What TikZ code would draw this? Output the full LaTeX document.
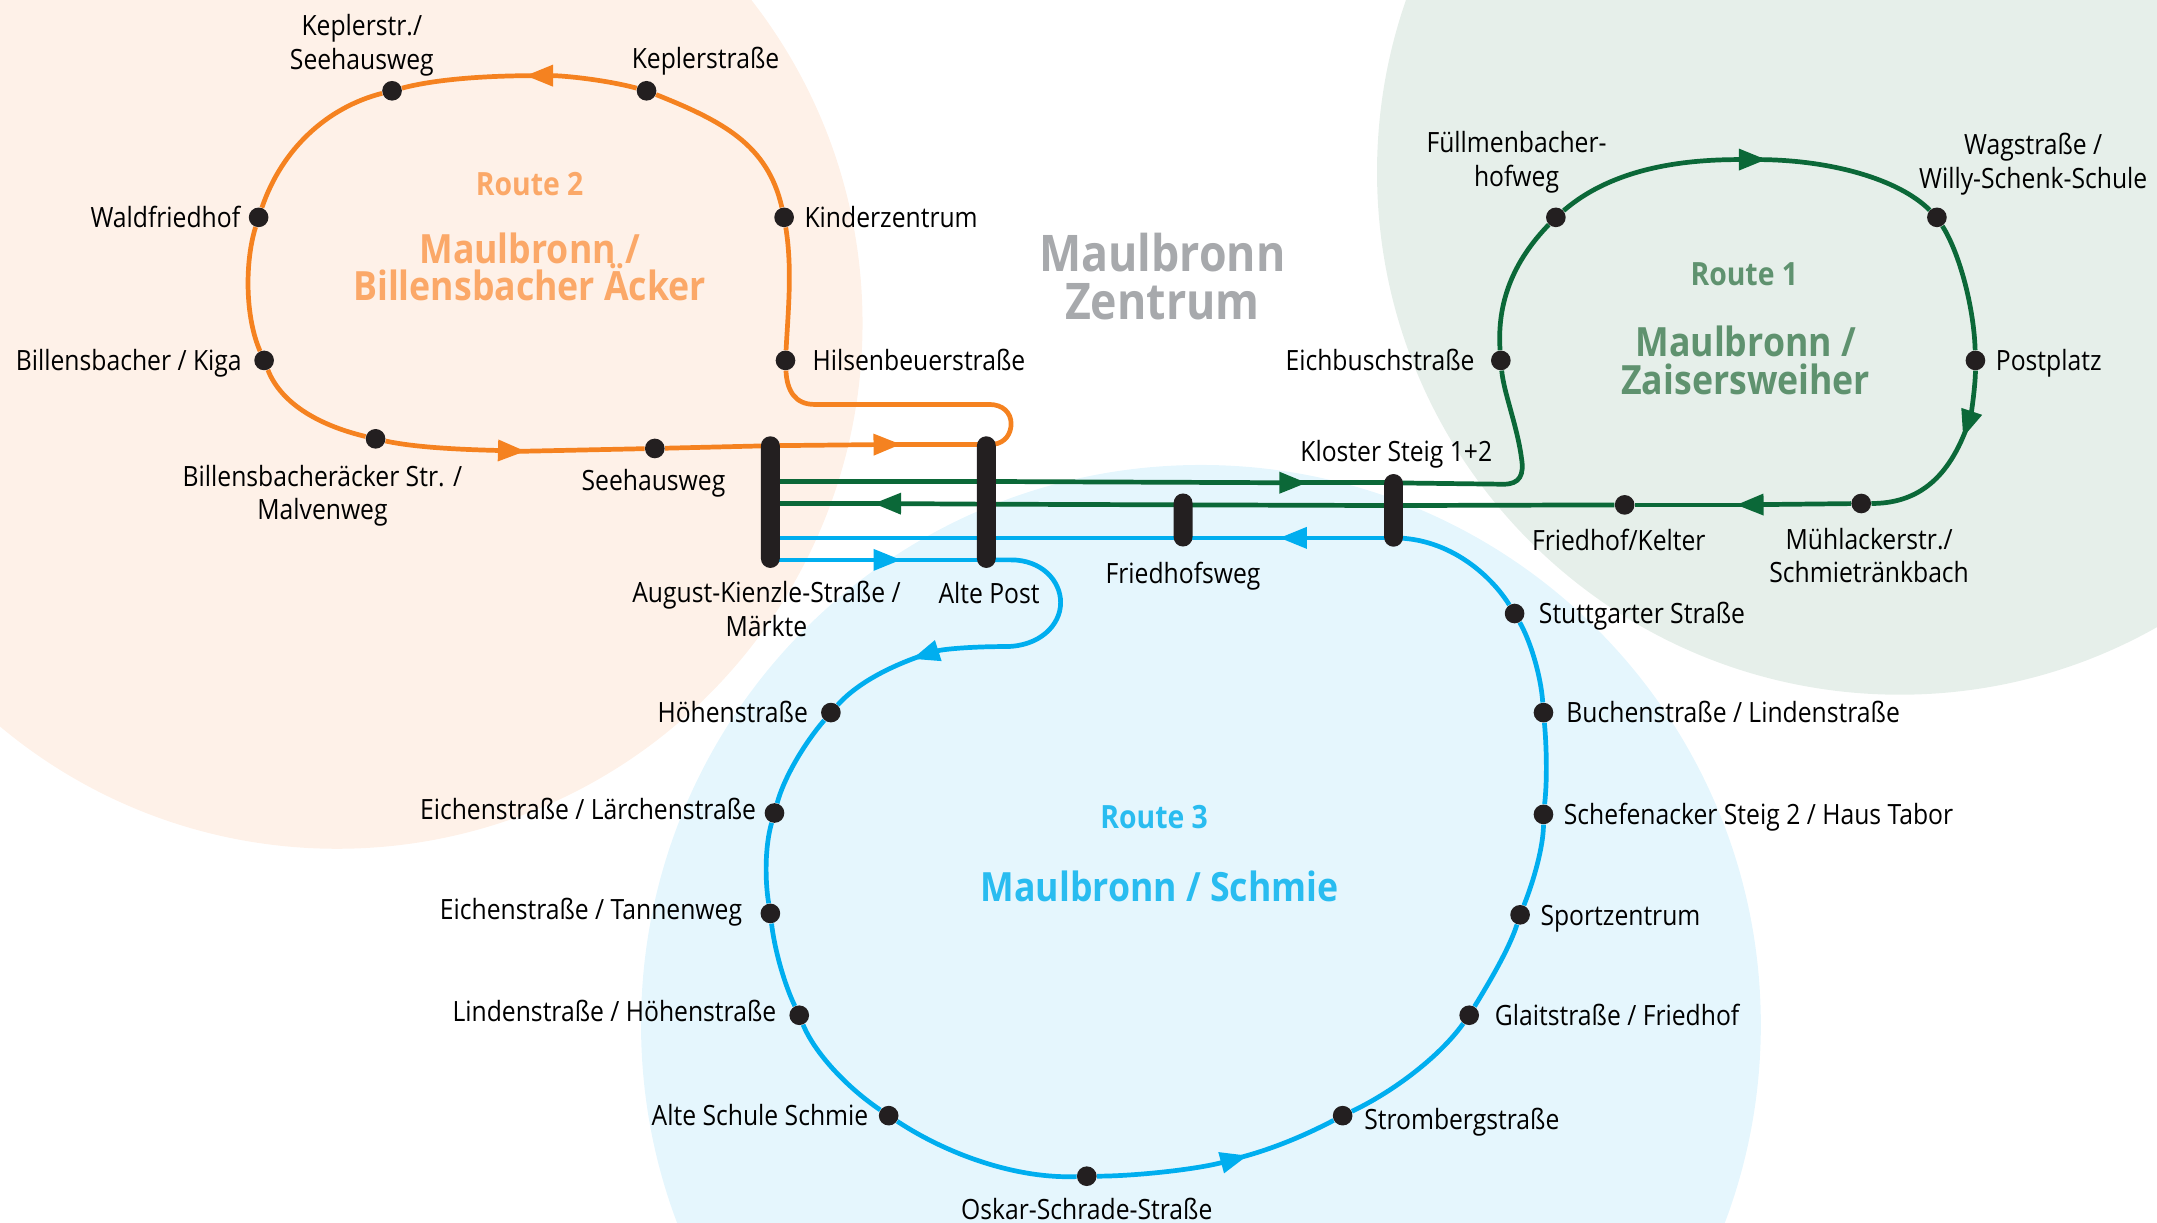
\documentclass[tikz,border=0pt]{standalone}
\usepackage{fontspec}
\setmainfont[FakeStretch=0.885]{Open Sans}
\usetikzlibrary{arrows.meta, positioning, backgrounds}
\definecolor{routeorange}{HTML}{F58220}
\definecolor{routegreen}{HTML}{0B6838}
\definecolor{routeblue}{HTML}{00AEEF}
\definecolor{stopblack}{HTML}{231F20}
\definecolor{fieldorange}{HTML}{FEF1E8}
\definecolor{fieldgreen}{HTML}{E6EFEA}
\definecolor{fieldblue}{HTML}{E5F6FD}
\definecolor{titleorange}{HTML}{FBA868}
\definecolor{titlegreen}{HTML}{5F926F}
\definecolor{titleblue}{HTML}{29BCF0}
\definecolor{titlegrey}{HTML}{A7A9AC}
\tikzset{
    stopdot/.style={circle, fill=stopblack, inner sep=0pt, minimum size=10pt},
    stopbar/.style={rectangle, fill=stopblack, inner sep=0pt, rounded corners=4.8pt, minimum width=9.6pt},
    stoplabel/.style={inner sep=0pt, align=center, font=\fontsize{14.2}{17}\selectfont},
    oneline/.style={stoplabel, text height=13.5pt, text depth=3pt},
    routename/.style={inner sep=0pt, font=\fontsize{16.3}{18}\selectfont\bfseries},
    routetitle/.style={inner sep=0pt, align=center, font=\fontsize{20.5}{19}\selectfont\bfseries},
    rline/.style={line width=2.4pt, line join=round},
    rtip/.style={-{Triangle[length=14pt, width=10.5pt]}},
    rback/.style={shorten <=-5pt}
}
\begin{document}
\begin{tikzpicture}[x=0.7pt, y=-0.7pt]
\useasboundingbox (0, 0) rectangle (1568, 889);

% stops of the orange route
\node[stopdot] (Ro1) at (571, 262) {};
\node[stopdot] (Ro2) at (570, 158) {};
\node[stopdot] (Ro3) at (470, 66) {};
\node[stopdot] (Ro4) at (285, 66) {};
\node[stopdot] (Ro5) at (188, 158) {};
\node[stopdot] (Ro6) at (192, 262) {};
\node[stopdot] (Ro7) at (273, 319) {};
\node[stopdot] (Ro8) at (476, 326) {};

% stops of the green route
\node[stopdot] (Gr1) at (1091, 262) {};
\node[stopdot] (Gr2) at (1131, 158) {};
\node[stopdot] (Gr3) at (1408, 158) {};
\node[stopdot] (Gr4) at (1436, 262) {};
\node[stopdot] (Gr5) at (1353, 366) {};
\node[stopdot] (Gr6) at (1181, 367) {};

% stops of the blue route
\node[stopdot] (Bl1) at (604, 518) {};
\node[stopdot] (Bl2) at (563, 591) {};
\node[stopdot] (Bl3) at (560, 664) {};
\node[stopdot] (Bl4) at (581, 738) {};
\node[stopdot] (Bl5) at (646, 811) {};
\node[stopdot] (Bl6) at (790, 855) {};
\node[stopdot] (Bl7) at (976, 811) {};
\node[stopdot] (Bl8) at (1068, 738) {};
\node[stopdot] (Bl9) at (1105, 665) {};
\node[stopdot] (Bl10) at (1122, 592) {};
\node[stopdot] (Bl11) at (1122, 518) {};
\node[stopdot] (Bl12) at (1101, 446) {};

% shared stops
\node[stopbar, minimum height=67pt] (BarA) at (560, 365) {};
\node[stopbar, minimum height=67pt] (BarB) at (717, 365) {};
\node[stopbar, minimum height=27pt] (BarC) at (860, 378) {};
\node[stopbar, minimum height=37pt] (BarD) at (1013, 371) {};

% track points and arrow points
\coordinate (OrA) at (560, 324);
\coordinate (OrB) at (717, 323);
\coordinate (Ot1) at (382, 55);
\coordinate (Ot2) at (382, 328);
\coordinate (Ot3) at (655, 323);
\coordinate (GuA) at (560, 350);
\coordinate (GuB) at (717, 350);
\coordinate (GuD) at (1013, 351);
\coordinate (GlA) at (560, 366);
\coordinate (GlB) at (717, 366.5);
\coordinate (GlC) at (860, 367);
\coordinate (GlD) at (1013, 367.5);
\coordinate (Gt1) at (950, 351);
\coordinate (Gt2) at (1284, 116);
\coordinate (Gt3) at (1427, 318);
\coordinate (Gt4) at (1262, 367);
\coordinate (Gt5) at (635, 366);
\coordinate (BuA) at (560, 391);
\coordinate (BuB) at (717, 391);
\coordinate (BuC) at (860, 391);
\coordinate (BuD) at (1013, 391);
\coordinate (BlA) at (560, 407);
\coordinate (BlB) at (717, 407);
\coordinate (Bt1) at (655, 407);
\coordinate (Bt2) at (663, 479);
\coordinate (Bt3) at (907, 840);
\coordinate (Bt4) at (930, 391);

\begin{scope}[on background layer]
    \clip (0, 0) rectangle (1568, 889);
    \fill[fieldorange] (245, 235) circle (382);
    \fill[fieldgreen] (1381, 125) circle (380);
    \fill[fieldblue] (873, 745) circle (407);

    % orange route
    \draw[rline, routeorange] (OrB) -- (722, 323) .. controls (731, 322) and (735, 315) .. (735, 308)
        .. controls (735, 300) and (729, 294) .. (719, 294) -- (592, 294)
        .. controls (578, 294) and (572, 284) .. (Ro1);
    \draw[rline, routeorange] (Ro1) .. controls (573, 225) and (576, 195) .. (Ro2);
    \draw[rline, routeorange] (Ro2) .. controls (558, 105) and (525, 88) .. (Ro3);
    \draw[rline, routeorange, rtip] (Ro3) .. controls (440, 58) and (410, 55) .. (Ot1);
    \draw[rline, routeorange, rback] (Ot1) .. controls (350, 55) and (315, 58) .. (Ro4);
    \draw[rline, routeorange] (Ro4) .. controls (238, 78) and (205, 108) .. (Ro5);
    \draw[rline, routeorange] (Ro5) .. controls (178, 190) and (178, 230) .. (Ro6);
    \draw[rline, routeorange] (Ro6) .. controls (205, 295) and (235, 310) .. (Ro7);
    \draw[rline, routeorange, rtip] (Ro7) .. controls (305, 326) and (345, 327) .. (Ot2);
    \draw[rline, routeorange, rback] (Ot2) -- (Ro8);
    \draw[rline, routeorange] (Ro8) -- (OrA);
    \draw[rline, routeorange, rtip] (OrA) -- (Ot3);
    \draw[rline, routeorange, rback] (Ot3) -- (OrB);

    % green route
    \draw[rline, routegreen] (GuA) -- (GuB);
    \draw[rline, routegreen, rtip] (GuB) -- (Gt1);
    \draw[rline, routegreen, rback] (Gt1) -- (GuD);
    \draw[rline, routegreen] (GuD) -- (1093, 352) .. controls (1105, 352) and (1108, 345) .. (1106, 333)
        .. controls (1103, 310) and (1093, 285) .. (Gr1);
    \draw[rline, routegreen] (Gr1) .. controls (1088, 220) and (1100, 190) .. (Gr2);
    \draw[rline, routegreen, rtip] (Gr2) .. controls (1175, 120) and (1230, 116) .. (Gt2);
    \draw[rline, routegreen, rback] (Gt2) .. controls (1330, 116) and (1380, 130) .. (Gr3);
    \draw[rline, routegreen] (Gr3) .. controls (1425, 185) and (1435, 225) .. (Gr4);
    \draw[rline, routegreen, rtip] (Gr4) .. controls (1436, 280) and (1433, 300) .. (Gt3);
    \draw[rline, routegreen, rback] (Gt3) .. controls (1415, 350) and (1392, 366) .. (Gr5);
    \draw[rline, routegreen, rtip] (Gr5) -- (Gt4);
    \draw[rline, routegreen, rback] (Gt4) -- (Gr6);
    \draw[rline, routegreen] (Gr6) -- (GlD);
    \draw[rline, routegreen] (GlD) -- (GlC);
    \draw[rline, routegreen] (GlC) -- (GlB);
    \draw[rline, routegreen, rtip] (GlB) -- (Gt5);
    \draw[rline, routegreen, rback] (Gt5) -- (GlA);

    % blue route
    \draw[rline, routeblue, rtip] (BlA) -- (Bt1);
    \draw[rline, routeblue, rback] (Bt1) -- (BlB);
    \draw[rline, routeblue, rtip] (BlB) -- (735, 407) .. controls (757, 407) and (771, 422) .. (771, 438)
        .. controls (771, 455) and (755, 470) .. (731, 470) .. controls (705, 470) and (685, 472) .. (Bt2);
    \draw[rline, routeblue, rback] (Bt2) .. controls (640, 487) and (620, 500) .. (Bl1);
    \draw[rline, routeblue] (Bl1) .. controls (585, 540) and (570, 565) .. (Bl2);
    \draw[rline, routeblue] (Bl2) .. controls (556, 615) and (556, 640) .. (Bl3);
    \draw[rline, routeblue] (Bl3) .. controls (563, 690) and (570, 715) .. (Bl4);
    \draw[rline, routeblue] (Bl4) .. controls (592, 765) and (615, 790) .. (Bl5);
    \draw[rline, routeblue] (Bl5) .. controls (690, 840) and (740, 857) .. (Bl6);
    \draw[rline, routeblue, rtip] (Bl6) .. controls (825, 855) and (870, 850) .. (Bt3);
    \draw[rline, routeblue, rback] (Bt3) .. controls (930, 834) and (955, 822) .. (Bl7);
    \draw[rline, routeblue] (Bl7) .. controls (1010, 795) and (1045, 770) .. (Bl8);
    \draw[rline, routeblue] (Bl8) .. controls (1082, 715) and (1097, 690) .. (Bl9);
    \draw[rline, routeblue] (Bl9) .. controls (1115, 640) and (1122, 615) .. (Bl10);
    \draw[rline, routeblue] (Bl10) .. controls (1125, 565) and (1124, 540) .. (Bl11);
    \draw[rline, routeblue] (Bl11) .. controls (1120, 490) and (1112, 465) .. (Bl12);
    \draw[rline, routeblue] (Bl12) .. controls (1085, 420) and (1055, 391) .. (BuD);
    \draw[rline, routeblue, rtip] (BuD) -- (Bt4);
    \draw[rline, routeblue, rback] (Bt4) -- (BuC);
    \draw[rline, routeblue] (BuC) -- (BuB);
    \draw[rline, routeblue] (BuB) -- (BuA);
\end{scope}

% stop names
\node[oneline, right = 8.4pt of Ro1] (Lo1) {Hilsenbeuerstraße};
\node[oneline, right = 5pt of Ro2] (Lo2) {Kinderzentrum};
\node[oneline, above = 2.9pt of Ro3, xshift=30pt] (Lo3) {Keplerstraße};
\node[stoplabel, above = 2.2pt of Ro4, xshift=-15.4pt] (Lo4) {Keplerstr./\\Seehausweg};
\node[oneline, left = 4pt of Ro5] (Lo5) {Waldfriedhof};
\node[oneline, left = 6pt of Ro6] (Lo6) {Billensbacher / Kiga};
\node[stoplabel, below = 8pt of Ro7, xshift=-27pt] (Lo7) {Billensbacheräcker Str. /\\Malvenweg};
\node[oneline, below = 2.4pt of Ro8, xshift=-0.7pt] (Lo8) {Seehausweg};

\node[oneline, left = 8pt of Gr1] (Lg1) {Eichbuschstraße};
\node[stoplabel, above = 7pt of Gr2, xshift=-20pt] (Lg2) {Füllmenbacher-\\hofweg};
\node[stoplabel, above = 6pt of Gr3, xshift=49pt] (Lg3) {Wagstraße /\\Willy-Schenk-Schule};
\node[oneline, right = 5pt of Gr4] (Lg4) {Postplatz};
\node[stoplabel, below = 7pt of Gr5, xshift=4pt] (Lg5) {Mühlackerstr./\\Schmietränkbach};
\node[oneline, below = 4.4pt of Gr6, xshift=-3pt] (Lg6) {Friedhof/Kelter};

\node[oneline, left = 6.3pt of Bl1] (Lb1) {Höhenstraße};
\node[oneline, left = 4pt of Bl2, yshift=2pt] (Lb2) {Eichenstraße / Lärchenstraße};
\node[oneline, left = 9pt of Bl3, yshift=2pt] (Lb3) {Eichenstraße / Tannenweg};
\node[oneline, left = 6.3pt of Bl4, yshift=2pt] (Lb4) {Lindenstraße / Höhenstraße};
\node[oneline, left = 5pt of Bl5] (Lb5) {Alte Schule Schmie};
\node[oneline, below = 3pt of Bl6] (Lb6) {Oskar-Schrade-Straße};
\node[oneline, right = 5.6pt of Bl7, yshift=-2pt] (Lb7) {Strombergstraße};
\node[oneline, right = 7.7pt of Bl8] (Lb8) {Glaitstraße / Friedhof};
\node[oneline, right = 5pt of Bl9] (Lb9) {Sportzentrum};
\node[oneline, right = 5pt of Bl10] (Lb10) {Schefenacker Steig 2 / Haus Tabor};
\node[oneline, right = 6.3pt of Bl11] (Lb11) {Buchenstraße / Lindenstraße};
\node[oneline, right = 7pt of Bl12] (Lb12) {Stuttgarter Straße};

\node[stoplabel, below = 6.5pt of BarA, xshift=-2pt] (LbarA) {August-Kienzle-Straße /\\Märkte};
\node[oneline, below = 4pt of BarB, xshift=1.4pt] (LbarB) {Alte Post};
\node[oneline, below = 5.1pt of BarC] (LbarC) {Friedhofsweg};
\node[oneline, above = 2.9pt of BarD, xshift=1.4pt] (LbarD) {Kloster Steig 1+2};

% route names
\node[routename, text=titleorange] (Tr2) at (385, 134) {Route 2};
\node[routetitle, text=titleorange] (Tm2) at (385, 194) {Maulbronn /\\Billensbacher Äcker};
\node[routename, text=titlegreen] (Tr1) at (1268, 199) {Route 1};
\node[routetitle, text=titlegreen] (Tm1) at (1269, 262) {Maulbronn /\\Zaisersweiher};
\node[routename, text=titleblue] (Tr3) at (839, 594) {Route 3};
\node[routetitle, text=titleblue] (Tm3) at (843, 644) {Maulbronn / Schmie};
\node[inner sep=0pt, align=center, text=titlegrey, font=\fontsize{25.7}{24.5}\selectfont\bfseries] (Tz) at (845, 201) {Maulbronn\\Zentrum};
\end{tikzpicture}
\end{document}
